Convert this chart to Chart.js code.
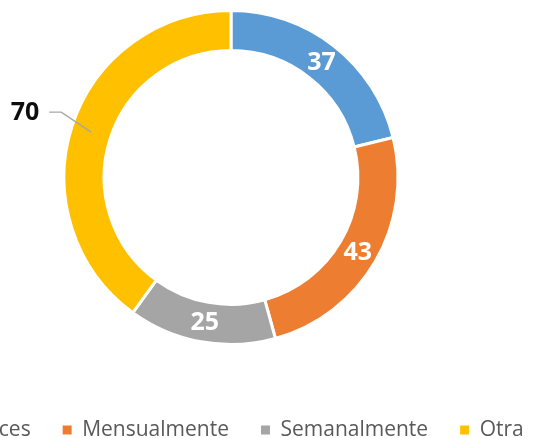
<!DOCTYPE html>
<html>
<head>
<meta charset="utf-8">
<script src="https://cdn.jsdelivr.net/npm/chart.js@4"></script>
<style>
  html, body { margin: 0; padding: 0; background: #fff; overflow: hidden; width: 534px; height: 438px; }
  #wrap { position: absolute; left: -169px; top: 0; width: 800px; height: 452px; }
</style>
</head>
<body>
<div id="wrap"><canvas id="c"></canvas></div>
<script>
const categories = ["A veces", "Mensualmente", "Semanalmente", "Otra"];
const values = [37, 43, 25, 70];
const colors = ["#5B9BD5", "#ED7D31", "#A5A5A5", "#FFC000"];
const outsideLabels = [3];

const valueLabels = {
  id: 'valueLabels',
  afterDatasetsDraw(chart) {
    const ctx = chart.ctx;
    const meta = chart.getDatasetMeta(0);
    meta.data.forEach((arc, i) => {
      const p = arc.tooltipPosition();
      const v = chart.data.datasets[0].data[i];
      ctx.save();
      ctx.font = 'bold 25px "Open Sans"';
      ctx.textBaseline = 'middle';
      if (outsideLabels.includes(i)) {
        const bx = p.x - 30, by = p.y - 20;
        ctx.strokeStyle = '#A6A6A6';
        ctx.lineWidth = 1.4;
        ctx.beginPath();
        ctx.moveTo(p.x, p.y);
        ctx.lineTo(bx, by);
        ctx.lineTo(bx - 12, by);
        ctx.stroke();
        ctx.fillStyle = '#0D0D0D';
        ctx.textAlign = 'right';
        ctx.fillText(String(v), bx - 22, by + 1);
      } else {
        ctx.fillStyle = '#FFFFFF';
        ctx.textAlign = 'center';
        ctx.fillText(String(v), p.x, p.y + 1);
      }
      ctx.restore();
    });
  }
};

new Chart(document.getElementById('c'), {
  type: 'doughnut',
  data: {
    labels: categories,
    datasets: [{
      data: values,
      backgroundColor: colors,
      borderColor: '#FFFFFF',
      borderWidth: 3,
      hoverOffset: 0
    }]
  },
  options: {
    responsive: true,
    maintainAspectRatio: false,
    animation: false,
    cutout: '76%',
    layout: { padding: { top: 9, bottom: 1.5, left: 0, right: 0 } },
    plugins: {
      tooltip: { enabled: false },
      legend: {
        position: 'bottom',
        title: { display: true, text: ' ', font: { size: 10, lineHeight: 1 }, padding: { top: 31.5, bottom: 0 } },
        labels: {
          boxWidth: 9,
          boxHeight: 9,
          padding: 32,
          color: '#595959',
          font: { family: '"Open Sans"', size: 21 },
          generateLabels(chart) {
            const items = Chart.overrides.doughnut.plugins.legend.labels.generateLabels(chart);
            return items.map(it => Object.assign(it, { lineWidth: 0, strokeStyle: it.fillStyle }));
          }
        }
      }
    }
  },
  plugins: [valueLabels]
});
</script>
</body>
</html>
